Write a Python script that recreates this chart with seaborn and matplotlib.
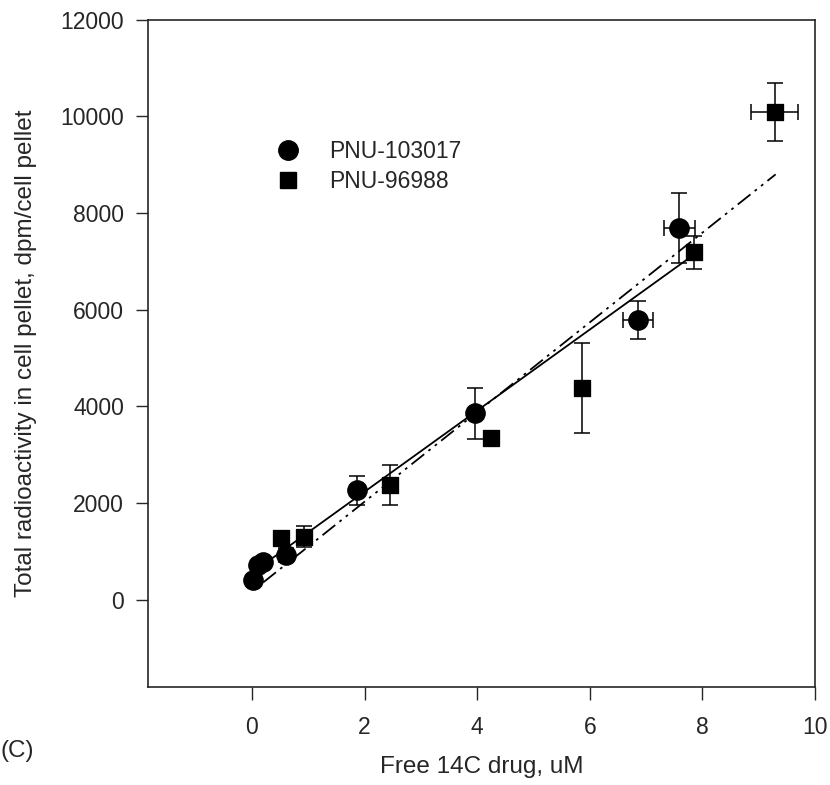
import numpy as np
import pandas as pd
import seaborn as sns
import matplotlib.pyplot as plt
from matplotlib.lines import Line2D

# PNU-103017 (circles)
circ_x = [0.02, 0.1, 0.2, 0.6, 1.86, 3.97, 6.86, 7.59]
circ_y = [410, 720, 790, 930, 2270, 3860, 5790, 7690]
circ_yerr = [0, 0, 0, 150, 300, 525, 385, 725]
circ_xerr = [0, 0, 0, 0, 0, 0, 0.27, 0.28]

# PNU-96988 (squares)
sq_x = [0.51, 0.92, 2.45, 4.25, 5.86, 7.85, 9.28]
sq_y = [1280, 1310, 2370, 3345, 4390, 7190, 10090]
sq_yerr = [140, 220, 410, 0, 930, 340, 600]
sq_xerr = [0, 0, 0, 0, 0, 0, 0.41]

# fitted lines, end points
fit1_x = [0.05, 7.8]
fit1_y = [600, 7100]
fit2_x = [0.2, 9.3]
fit2_y = [360, 8800]

sns.set_style("ticks")
plt.rcParams['font.family'] = ['Liberation Sans', 'DejaVu Sans']

fig, ax = plt.subplots(figsize=(8.3, 7.85), dpi=100)
fig.subplots_adjust(left=0.178, right=0.982, top=0.975, bottom=0.125)

df1 = pd.DataFrame({'x': circ_x, 'y': circ_y})
df2 = pd.DataFrame({'x': sq_x, 'y': sq_y})

sns.lineplot(x=fit1_x, y=fit1_y, color='black', lw=1.3, ax=ax)
sns.lineplot(x=fit2_x, y=fit2_y, color='black', lw=1.3, ax=ax,
             dashes=False)
ax.lines[-1].set_dashes([9, 3, 1.5, 3, 1.5, 3])

ax.errorbar(circ_x, circ_y, yerr=circ_yerr, xerr=circ_xerr, fmt='none',
            ecolor='black', elinewidth=1.1, capsize=6, capthick=1.1)
ax.errorbar(sq_x, sq_y, yerr=sq_yerr, xerr=sq_xerr, fmt='none',
            ecolor='black', elinewidth=1.1, capsize=6, capthick=1.1)

sns.scatterplot(data=df1, x='x', y='y', marker='o', s=190, color='black',
                edgecolor='black', ax=ax, zorder=5)
sns.scatterplot(data=df2, x='x', y='y', marker='s', s=140, color='black',
                edgecolor='black', ax=ax, zorder=5)

ax.set_xlim(-1.85, 10)
ax.set_ylim(-1800, 12000)
ax.set_xticks([0, 2, 4, 6, 8, 10])
ax.set_yticks([0, 2000, 4000, 6000, 8000, 10000, 12000])
ax.tick_params(axis='x', pad=12)
ax.tick_params(direction='out', length=9, width=1, labelsize=16.5)
ax.tick_params(axis='y', pad=8)
for s in ax.spines.values():
    s.set_linewidth(1.2)

ax.set_xlabel('Free 14C drug, uM', fontsize=17.5, labelpad=12)
ax.set_ylabel('Total radioactivity in cell pellet, dpm/cell pellet',
              fontsize=17.5, labelpad=17)
fig.text(0.0, 0.036, '(C)', fontsize=17.5)

handles = [Line2D([], [], marker='o', color='black', ls='none', markersize=14),
           Line2D([], [], marker='s', color='black', ls='none', markersize=11.5)]
ax.legend(handles, ['PNU-103017', 'PNU-96988'], loc='upper left',
          bbox_to_anchor=(0.145, 0.85), frameon=False, fontsize=16.5,
          handletextpad=0.8, labelspacing=0.3)

plt.savefig('out.png')
